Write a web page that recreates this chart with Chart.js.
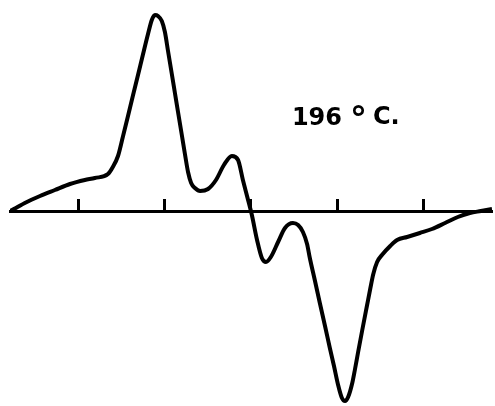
<!DOCTYPE html>
<html>
<head>
<meta charset="utf-8">
<script src="https://cdn.jsdelivr.net/npm/chart.js@4/dist/chart.umd.min.js"></script>
<style>
  html, body { margin: 0; padding: 0; background: #fff; }
  canvas { display: block; }
</style>
</head>
<body>
<canvas id="spectrum" width="495" height="406"></canvas>
<script>
// field positions (arbitrary units) and derivative signal
const field = [5.3, 7.0, 9.6, 14.0, 18.3, 22.7, 27.0, 29.9, 33.7, 35.1, 36.6, 38.0, 39.5, 40.9, 42.4, 43.8, 45.3, 46.4, 47.3, 48.2,
  49.3, 50.2, 51.1, 52.2, 53.1, 54.0, 55.1, 56.0, 56.9, 57.8, 58.9, 60.4, 62.7, 65.0, 67.3, 69.6, 71.4, 72.8, 74.3, 75.4,
  76.9, 78.3, 79.5, 80.9, 83.0, 85.0, 87.3, 88.8, 90.2, 91.4, 92.2, 93.7, 95.1, 96.6, 98.0, 99.2, 100.4, 101.5, 102.4, 103.3,
  104.5, 105.3, 106.2, 107.4, 108.8, 109.7, 110.6, 111.7, 113.1, 115.5, 117.5, 120.4, 124.1, 127.6, 131.4, 135.1, 138.6, 141.8, 145.0];
const signal = [0, 3, 8, 15, 21, 27, 31, 33, 37, 44, 55, 74, 95, 115, 136, 156, 177, 191, 196, 195,
  190, 179, 160, 137, 118, 99, 76, 57, 39, 28, 23, 20, 22, 31, 46, 55, 51, 31, 11, -4,
  -29, -47, -51, -46, -31, -17, -12, -14, -21, -33, -47, -70, -92, -115, -137, -155, -174, -187, -190, -186,
  -172, -158, -141, -119, -94, -78, -63, -51, -44, -35, -29, -26, -22, -18, -12, -6, -2, 0, 2];
const tickValues = [25, 50, 75, 100, 125];
const label = { x: 87, y: 86, temp: '196', deg: '°', unit: 'C.' };

// short upward tick marks on the baseline plus the temperature label
const marks = {
  id: 'marks',
  afterDraw(chart) {
    const ctx = chart.ctx;
    const xs = chart.scales.x, ys = chart.scales.y;
    const y0 = ys.getPixelForValue(0);
    ctx.save();
    ctx.strokeStyle = '#000';
    ctx.lineWidth = 3;
    xs.ticks.forEach(t => {
      const px = Math.round(xs.getPixelForValue(t.value)) + 0.5;
      ctx.beginPath();
      ctx.moveTo(px, y0);
      ctx.lineTo(px, y0 - 12);
      ctx.stroke();
    });
    const lx = xs.getPixelForValue(label.x);
    const ly = ys.getPixelForValue(label.y);
    ctx.fillStyle = '#000';
    ctx.textBaseline = 'alphabetic';
    ctx.font = 'bold 24px "DejaVu Sans"';
    ctx.fillText(label.temp, lx, ly);
    ctx.fillText(label.unit, lx + 81, ly - 1);
    ctx.font = 'bold 34px "DejaVu Sans"';
    ctx.fillText(label.deg, lx + 58, ly + 5);
    ctx.restore();
  }
};

const ctx = document.getElementById('spectrum').getContext('2d');
const chart = new Chart(ctx, {
  type: 'line',
  data: {
    datasets: [{
      data: field.map((f, i) => ({ x: f, y: signal[i] })),
      borderColor: '#000',
      borderWidth: 4,
      pointRadius: 0,
      cubicInterpolationMode: 'monotone',
      fill: false
    }]
  },
  options: {
    responsive: false,
    animation: false,
    layout: { padding: { left: 10, right: 3, top: 8, bottom: 2 } },
    plugins: { legend: { display: false }, tooltip: { enabled: false } },
    scales: {
      x: {
        type: 'linear',
        min: 5.3,
        max: 145,
        position: { y: 0 },
        afterBuildTicks: axis => { axis.ticks = tickValues.map(v => ({ value: v })); },
        ticks: { display: false },
        grid: { display: false, drawTicks: false },
        border: { display: true, color: '#000', width: 3 }
      },
      y: {
        min: -193,
        max: 203,
        display: false
      }
    }
  },
  plugins: [marks]
});
</script>
</body>
</html>
